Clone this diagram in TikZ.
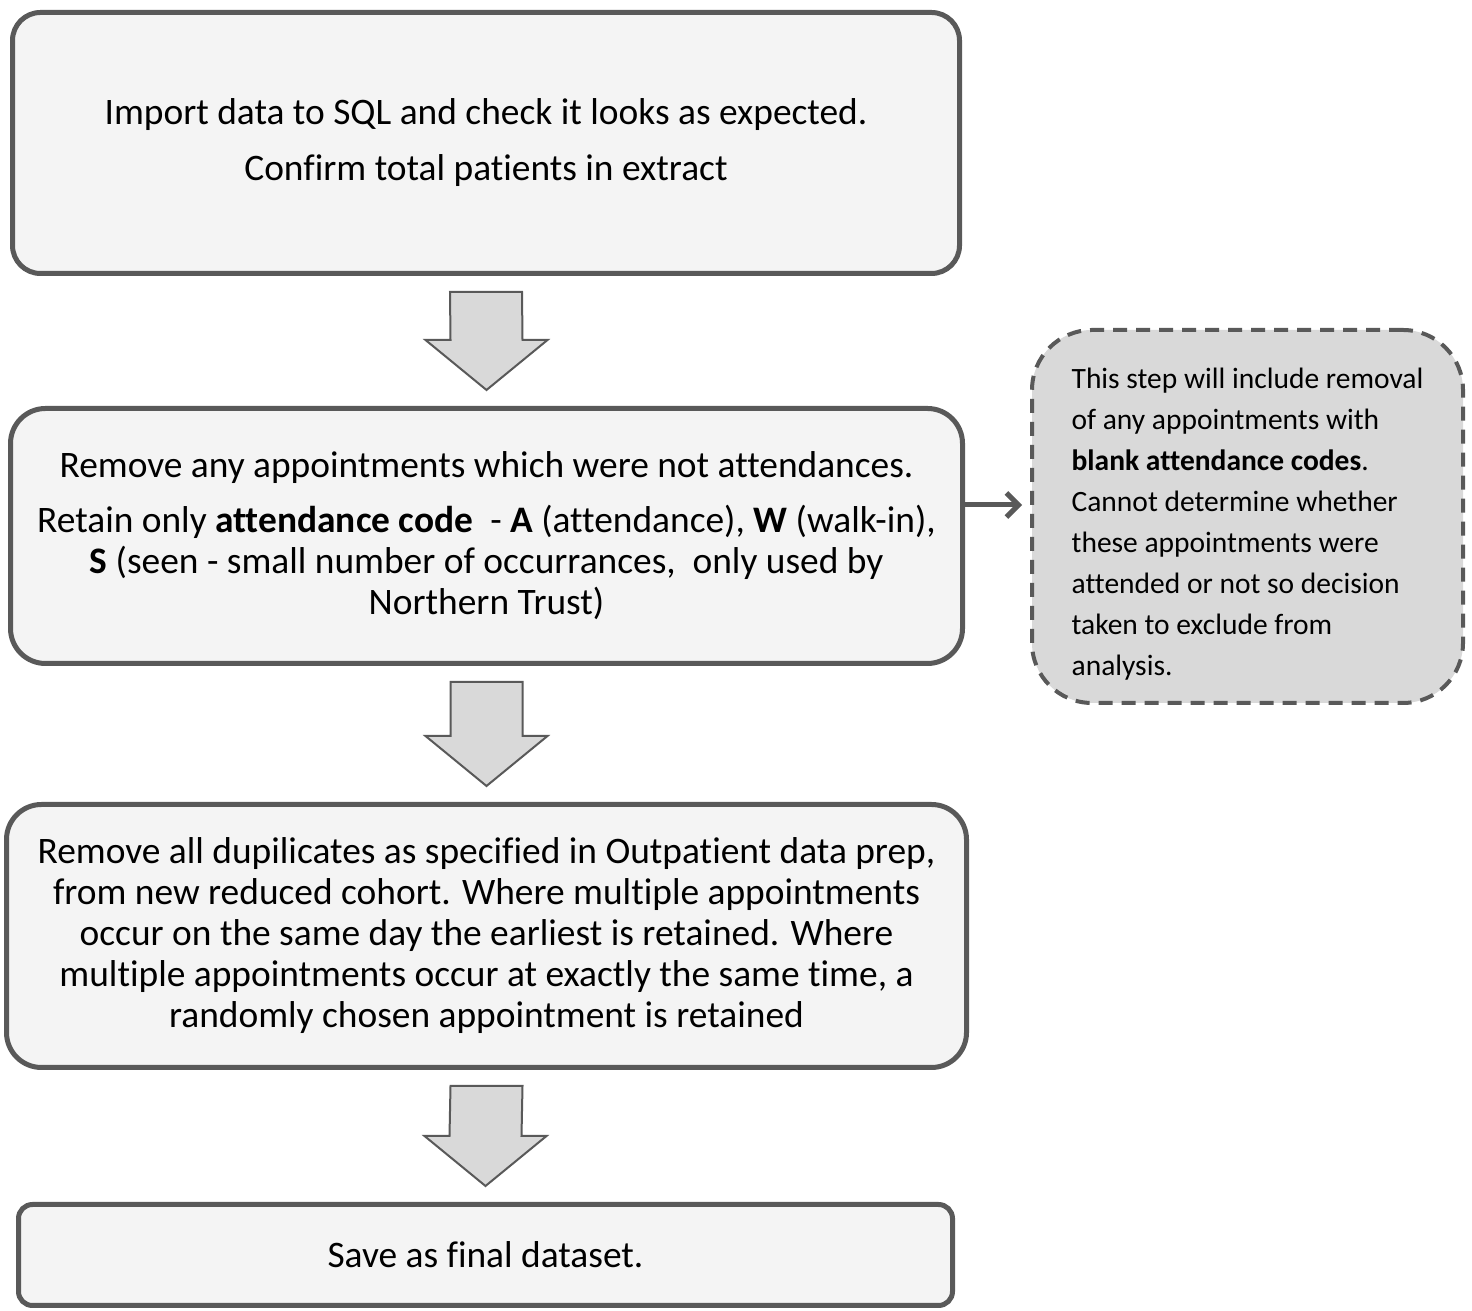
\documentclass[tikz,border=0pt]{standalone}
\usepackage{fontspec}
\setmainfont{Carlito}[Ligatures={NoCommon}]
\usepackage{xcolor}
\usepackage{tikz}
\usetikzlibrary{
	arrows.meta,
	calc,
	positioning
}
\definecolor{edge}{HTML}{595959}
\definecolor{boxfill}{HTML}{F4F4F4}
\definecolor{notefill}{HTML}{D9D9D9}
\tikzstyle{every picture}+=[>=Stealth]

\begin{document}
\begin{tikzpicture}[x=1pt, y=1pt,
		stepbox/.style={draw=edge, fill=boxfill, line width=5pt, align=center,
			font=\fontsize{37.4}{41}\selectfont, inner sep=0pt},
		notebox/.style={draw=edge, fill=notefill, line width=4pt, dash pattern=on 14pt off 9pt,
			rounded corners=60pt, align=left, font=\fontsize{29.5}{41}\selectfont, inner sep=0pt},
		blockarrow/.style={draw=edge, fill=notefill, line width=2pt, line join=miter},
		sidearrow/.style={draw=edge, line width=5pt, -{Straight Barb[length=12pt, width=24pt]}}
		]

	\useasboundingbox (0,0) rectangle (1472,1311);

	\node[stepbox, rounded corners=28pt, minimum width=947pt, minimum height=261pt] (import) at (486,1168)
		{Import data to SQL and check it looks as expected.\\[15pt]
		Confirm total patients in extract};

	\node[stepbox, rounded corners=35pt, minimum width=952pt, minimum height=255pt] (attend) at (486.5,775)
		{Remove any appointments which were not attendances.\\[14pt]
		Retain only \textbf{attendance code}\ \ - \textbf{A} (attendance), \textbf{W} (walk-in),\\
		\textbf{S} (seen - small number of occurrances,\ \ only used by\\
		Northern Trust)};

	\node[stepbox, rounded corners=35pt, minimum width=960pt, minimum height=263pt] (dedup) at (486.5,375)
		{Remove all dupilicates as specified in Outpatient data prep,\\
		from new reduced cohort. Where multiple appointments\\
		occur on the same day the earliest is retained. Where\\
		multiple appointments occur at exactly the same time, a\\
		randomly chosen appointment is retained};

	\node[stepbox, rounded corners=14pt, minimum width=934pt, minimum height=101pt] (save) at (485.5,56)
		{Save as final dataset.};

	% strut on the first line pushes the text a little down
	\node[notebox, minimum width=431pt, minimum height=373pt] (note) at (1247.5,794.5)
		{\rule{0pt}{36.5pt}This step will include removal\\
		of any appointments with\\
		\textbf{blank attendance codes}.\\
		Cannot determine whether\\
		these appointments were\\
		attended or not so decision\\
		taken to exclude from\\
		analysis.};

	% block arrows between the steps
	\foreach \from/\to in {import/attend, attend/dedup, dedup/save} {
		\path ($(\from.south)+(0,-16)$) coordinate (top) ($(\to.north)+(0,16)$) coordinate (tip);
		\draw[blockarrow] ($(top)+(-36,0)$) -- ($(top)+(36,0)$) -- ($(tip)+(36,50)$) -- ($(tip)+(61,50)$)
			-- (tip) -- ($(tip)+(-61,50)$) -- ($(tip)+(-36,50)$) -- cycle;
	}

	\coordinate (noteIn) at ($(note.west)+(-8,11.5)$);
	\draw[sidearrow] (attend.east |- noteIn) -- (noteIn);

\end{tikzpicture}
\end{document}
